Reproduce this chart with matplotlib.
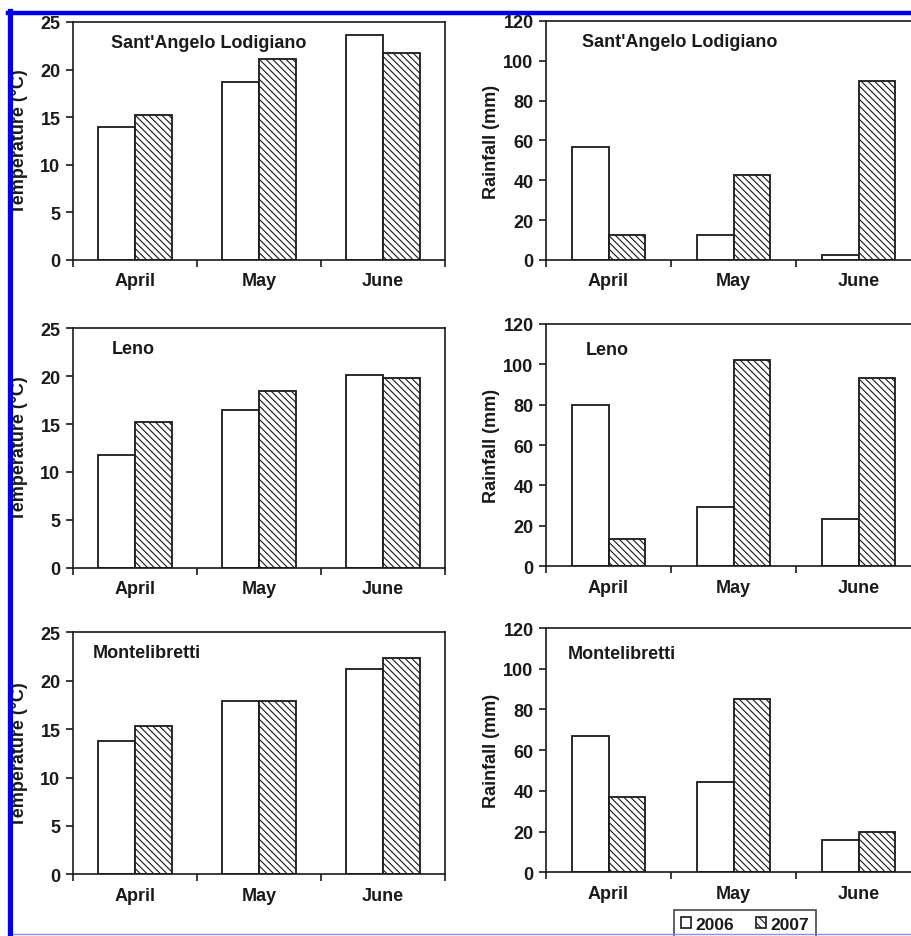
import matplotlib.pyplot as plt
import numpy as np
from matplotlib.patches import Patch
from matplotlib.lines import Line2D

plt.rcParams['font.family'] = ['Liberation Sans', 'DejaVu Sans']
plt.rcParams['hatch.linewidth'] = 0.8

months = ['April', 'May', 'June']
stations = ["Sant'Angelo Lodigiano", 'Leno', 'Montelibretti']
years = ['2006', '2007']

# mean temperature (°C), one row per station
temp_2006 = [[14.0, 18.7, 23.6],
             [11.8, 16.5, 20.1],
             [13.8, 17.9, 21.2]]
temp_2007 = [[15.2, 21.1, 21.7],
             [15.2, 18.4, 19.8],
             [15.3, 17.9, 22.3]]

# rainfall (mm), one row per station
rain_2006 = [[56.5, 12.6, 2.5],
             [79.9, 29.2, 23.4],
             [66.8, 44.5, 15.9]]
rain_2007 = [[12.7, 42.9, 90.0],
             [13.5, 102.3, 93.2],
             [37.2, 85.1, 19.9]]

W, H = 912, 937
fig = plt.figure(figsize=(W / 100, H / 100), dpi=100)

ink = '#1a1a1a'
hatch = '\\\\\\\\\\'
fs = 13

left_pos = [(0.0800, 0.7215, 0.4079, 0.2540),
            (0.0800, 0.3931, 0.4079, 0.2555),
            (0.0800, 0.0658, 0.4079, 0.2583)]
right_pos = [(0.5987, 0.7215, 0.4112, 0.2551),
             (0.5987, 0.3946, 0.4112, 0.2586),
             (0.5987, 0.0680, 0.4112, 0.2607)]
title_left = [(0.102, 0.915), (0.105, 0.915), (0.054, 0.915)]
title_right = [(0.095, 0.912), (0.107, 0.895), (0.057, 0.895)]

x = np.arange(len(months))
bw = 0.295


def draw(ax, v06, v07, ymax, ystep, ylabel, title, tpos, label_x):
    ax.bar(x - bw / 2, v06, bw, facecolor='white', edgecolor=ink, linewidth=1.3)
    ax.bar(x + bw / 2, v07, bw, facecolor='white', edgecolor=ink, linewidth=1.3,
           hatch=hatch)
    ax.set_xlim(-0.5, 2.5)
    ax.set_ylim(0, ymax)
    ax.set_yticks(np.arange(0, ymax + 1, ystep))
    ax.set_xticks(x)
    ax.set_xticklabels(months)
    ax.set_xticks([-0.5, 0.5, 1.5, 2.5], minor=True)
    ax.tick_params(axis='x', which='major', length=0, pad=9, labelsize=fs)
    ax.tick_params(axis='x', which='minor', length=5, width=1.2, color=ink)
    ax.tick_params(axis='y', length=5, width=1.2, color=ink, pad=4, labelsize=fs)
    for lab in ax.get_xticklabels() + ax.get_yticklabels():
        lab.set_fontweight('bold')
        lab.set_color(ink)
    for s in ax.spines.values():
        s.set_linewidth(1.2)
        s.set_color(ink)
    ax.set_ylabel(ylabel, fontsize=fs, fontweight='bold', color=ink)
    ax.yaxis.set_label_coords(label_x, 0.5)
    ax.text(tpos[0], tpos[1], title, transform=ax.transAxes, fontsize=fs,
            fontweight='bold', color=ink, va='center', ha='left')


for i in range(3):
    axl = fig.add_axes(left_pos[i])
    draw(axl, temp_2006[i], temp_2007[i], 25, 5, 'Temperature (°C)',
         stations[i], title_left[i], -0.121)
    axr = fig.add_axes(right_pos[i])
    draw(axr, rain_2006[i], rain_2007[i], 120, 20, 'Rainfall (mm)',
         stations[i], title_right[i], -0.123)

handles = [Patch(facecolor='white', edgecolor=ink, linewidth=1.2),
           Patch(facecolor='white', edgecolor=ink, linewidth=1.2, hatch='\\\\\\\\')]
leg = fig.legend(handles, years, loc='upper center', bbox_to_anchor=(745 / W, (H - 902) / H),
                 ncol=2, frameon=True, fancybox=False, handlelength=0.55, handleheight=0.55,
                 handletextpad=0.25, columnspacing=1.3, borderpad=0.4,
                 prop={'weight': 'bold', 'size': 12.5})
leg.get_frame().set_edgecolor(ink)
leg.get_frame().set_linewidth(1.2)
for t in leg.get_texts():
    t.set_color(ink)

# page border of the scanned figure
fig.add_artist(Line2D([8 / W, 1], [(H - 14) / H] * 2, color='#0000ee', lw=3.2, zorder=10))
fig.add_artist(Line2D([10.5 / W] * 2, [(H - 12) / H, (H - 935) / H], color='#0000ee', lw=3.8, zorder=10))
fig.add_artist(Line2D([13 / W, 1], [(H - 935) / H] * 2, color='#8c8cff', lw=1.0, zorder=10))

fig.savefig('out.png', dpi=100)
